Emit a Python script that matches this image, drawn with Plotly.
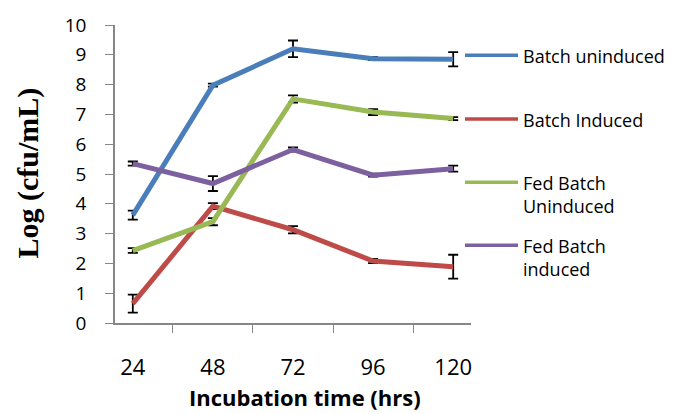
import plotly.graph_objects as go

# Incubation times (hours)
hours = ["24", "48", "72", "96", "120"]

# Mean log counts per culture mode
batch_uninduced = [3.62, 7.98, 9.20, 8.87, 8.85]
batch_induced = [0.65, 3.92, 3.13, 2.08, 1.89]
fed_batch_uninduced = [2.43, 3.40, 7.52, 7.08, 6.86]
fed_batch_induced = [5.35, 4.68, 5.82, 4.96, 5.18]

# Standard deviations
sd_batch_uninduced = [0.15, 0.05, 0.28, 0.05, 0.24]
sd_batch_induced = [0.30, 0.10, 0.12, 0.07, 0.40]
sd_fed_batch_uninduced = [0.08, 0.12, 0.12, 0.10, 0.05]
sd_fed_batch_induced = [0.07, 0.25, 0.07, 0.05, 0.10]

series = [
    ("Batch uninduced", batch_uninduced, sd_batch_uninduced, "#4A7EBB"),
    ("Batch Induced", batch_induced, sd_batch_induced, "#BE4B48"),
    ("Fed Batch<br>Uninduced", fed_batch_uninduced, sd_fed_batch_uninduced, "#98B954"),
    ("Fed Batch<br>induced", fed_batch_induced, sd_fed_batch_induced, "#7D60A0"),
]

fig = go.Figure()
for name, vals, sd, color in series:
    fig.add_trace(go.Scatter(
        x=hours, y=vals, mode="lines", name=name,
        line=dict(color=color, width=5),
        error_y=dict(type="data", array=sd, visible=True,
                     color="black", thickness=1.8, width=5),
        showlegend=False,
    ))

# Plot-area geometry in pixels, used to place the hand-built legend
PL, PR, PT, PB = 115, 471, 20, 323


def px(x):
    return (x - PL) / (PR - PL)


def py(y):
    return (PB - y) / (PB - PT)


legend_y = [50.7, 115.7, 180, 244]
for (name, vals, sd, color), ly in zip(series, legend_y):
    fig.add_shape(type="line", xref="paper", yref="paper",
                  x0=px(465), x1=px(518), y0=py(ly), y1=py(ly),
                  line=dict(color=color, width=3.5))
    fig.add_annotation(text=name, xref="paper", yref="paper",
                       x=px(521), y=py(ly - 13.5),
                       xanchor="left", yanchor="top", align="left",
                       showarrow=False,
                       font=dict(family="Open Sans", size=18, color="black"))

fig.add_annotation(text="<b>Incubation time (hrs)</b>", xref="paper", yref="paper",
                   x=px(305), y=py(398),
                   xanchor="center", yanchor="middle", showarrow=False,
                   font=dict(family="Open Sans", size=22, color="black"))
fig.add_annotation(text="<b>Log (cfu/mL)</b>", xref="paper", yref="paper",
                   x=px(28), y=py(171),
                   xanchor="center", yanchor="middle", textangle=-90,
                   showarrow=False,
                   font=dict(family="Liberation Serif", size=30, color="black"))

axis_color = "#868686"
fig.update_layout(
    width=686, height=414,
    margin=dict(l=PL, r=686 - PR, t=PT, b=414 - PB),
    paper_bgcolor="white", plot_bgcolor="white",
    font=dict(family="Open Sans", color="black"),
    xaxis=dict(type="category", tickson="boundaries", ticks="outside",
               ticklen=8, tickcolor=axis_color, showline=True,
               linecolor=axis_color, linewidth=1.5, showgrid=False,
               tickfont=dict(size=22), ticklabelstandoff=24),
    yaxis=dict(range=[0, 10], dtick=1, ticks="outside", ticklen=8,
               tickcolor=axis_color, showline=True, linecolor=axis_color,
               linewidth=1.5, showgrid=False, zeroline=False,
               tickfont=dict(size=19), ticklabelstandoff=15),
)

fig.write_html("out.html")
